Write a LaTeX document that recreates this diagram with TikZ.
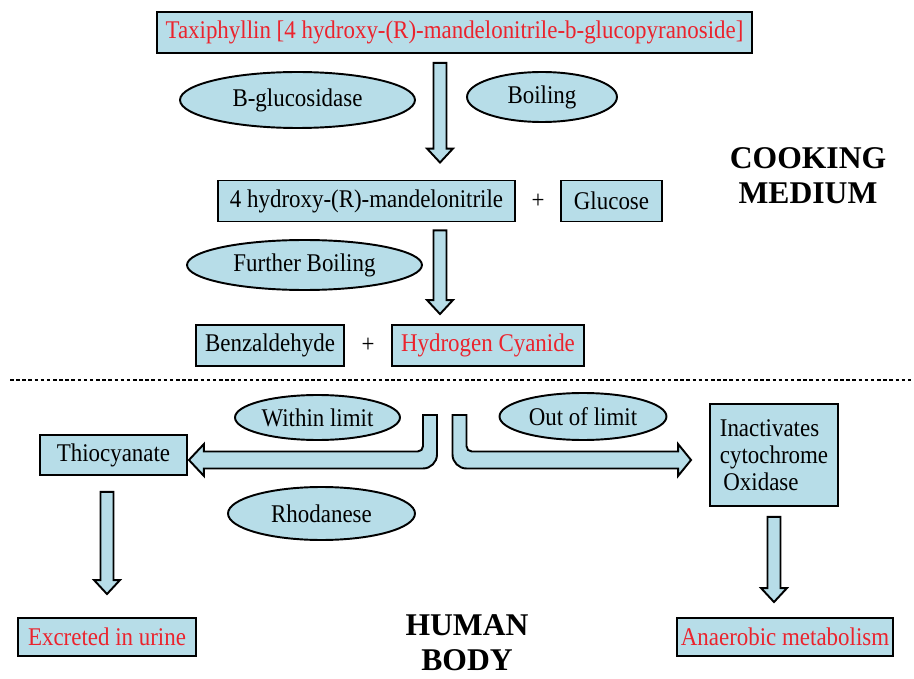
\documentclass[tikz,border=0pt]{standalone}
\usepackage{fontspec}
\setmainfont{Liberation Serif}[FakeStretch=0.9]
\newfontfamily\titlefont{Liberation Serif}
\usetikzlibrary{shapes.geometric,calc}
\definecolor{paleblue}{RGB}{183,221,232}
\definecolor{redtxt}{RGB}{235,35,45}
\tikzset{
    box/.style={draw, fill=paleblue, line width=1.1pt, inner sep=2pt, minimum height=0.82cm, font=\fontsize{14.5}{15.5}\selectfont},
    oval/.style={ellipse, draw, fill=paleblue, line width=1.1pt, inner sep=0pt, font=\fontsize{14.5}{15.5}\selectfont},
    blockarr/.style={draw, fill=paleblue, line width=1.1pt, line join=miter},
    title/.style={font=\titlefont\fontsize{18}{20}\selectfont\bfseries, align=center},
    sign/.style={font=\fontsize{14.5}{15.5}\selectfont}
}
% straight block arrow, #1 = top of shaft, #2 = tip
\newcommand{\blockdown}[2]{%
    \draw[blockarr] ($#1+(-6.5,0)$) -- ($#2+(-6.5,-14)$) -- ($#2+(-13,-14)$) -- #2
        -- ($#2+(13,-14)$) -- ($#2+(6.5,-14)$) -- ($#1+(6.5,0)$) -- cycle;
}
\begin{document}
\begin{tikzpicture}[x=0.02cm, y=-0.02cm]
    \useasboundingbox (0,0) rectangle (914,679);
    % cooking medium
    \node[box, minimum width=11.9cm, text=redtxt] (taxi) at (454.5,32.5) {Taxiphyllin [4 hydroxy-(R)-mandelonitrile-b-glucopyranoside]};
    \node[oval, minimum width=4.7cm, minimum height=1.12cm] (bgluc) at (297.5,100) {B-glucosidase};
    \node[oval, minimum width=3cm, minimum height=1cm] (boil) at (542,97) {Boiling};
    \node[box, minimum width=5.94cm] (mand) at (366.5,201) {4 hydroxy-(R)-mandelonitrile};
    \node[sign] (plus1) at (538,201) {+};
    \node[box, minimum width=2.02cm] (glucose) at (611.5,201) {Glucose};
    \node[title] (cook) at (808,176) {COOKING\\MEDIUM};
    \node[oval, minimum width=4.7cm, minimum height=1cm] (further) at (304.5,265) {Further Boiling};
    \node[box, minimum width=2.96cm] (benz) at (270,345.5) {Benzaldehyde};
    \node[sign] (plus2) at (368,345) {+};
    \node[box, minimum width=3.84cm, text=redtxt] (hcn) at (488,345.5) {Hydrogen Cyanide};

    \draw[dash pattern=on 2pt off 1.5pt, line width=0.8pt] (10,380) -- (912,380);

    % human body
    \node[oval, minimum width=3.3cm, minimum height=0.9cm] (within) at (317.5,417.5) {Within limit};
    \node[oval, minimum width=3.34cm, minimum height=0.94cm] (outlim) at (583,416.5) {Out of limit};
    \node[box, minimum width=2.94cm, minimum height=0.8cm] (thio) at (113.5,455) {Thiocyanate};
    \node[box, minimum width=2.56cm, minimum height=2.04cm, align=left] (inact) at (774,455) {Inactivates\\cytochrome\\\hspace{2pt}Oxidase};
    \node[oval, minimum width=3.74cm, minimum height=1.06cm] (rhod) at (321.5,513.5) {Rhodanese};
    \node[box, minimum width=3.56cm, minimum height=0.76cm, text=redtxt] (urine) at (107,637) {Excreted in urine};
    \node[title] (human) at (467,643) {HUMAN\\BODY};
    \node[box, minimum width=4.28cm, minimum height=0.76cm, text=redtxt] (anaer) at (785,637) {Anaerobic metabolism};

    % arrows
    \coordinate (col) at (440,0);
    \coordinate (a1top) at ($(col |- taxi.south)+(0,9)$);
    \coordinate (a1tip) at ($(col |- mand.north)+(0,-17)$);
    \coordinate (a2top) at ($(col |- mand.south)+(0,8)$);
    \coordinate (a2tip) at ($(col |- benz.north)+(0,-10)$);
    \coordinate (a3top) at ($(urine.north |- thio.south)+(0,16)$);
    \coordinate (a3tip) at ($(urine.north)+(0,-23)$);
    \coordinate (a4top) at ($(inact.south)+(0,10)$);
    \coordinate (a4tip) at ($(inact.south |- anaer.north)+(0,-15)$);
    \blockdown{(a1top)}{(a1tip)}
    \blockdown{(a2top)}{(a2tip)}
    \blockdown{(a3top)}{(a3tip)}
    \blockdown{(a4top)}{(a4tip)}

    \coordinate (s1) at (430,415);
    \coordinate (s2) at (459.5,415);
    \coordinate (t1) at ($(thio.east)+(1,5)$);
    \coordinate (t2) at ($(inact.west)+(-18,5)$);
    \draw[blockarr] ($(s1)+(-7,0)$) [rounded corners=3pt] -- ($(s1 |- t1)+(-7,-8.5)$) [sharp corners]
        -- ($(t1)+(15,-8.5)$) -- ($(t1)+(15,-16)$) -- (t1) -- ($(t1)+(15,16)$) -- ($(t1)+(15,8.5)$)
        [rounded corners=8pt] -- ($(s1 |- t1)+(7,8.5)$) [sharp corners] -- ($(s1)+(7,0)$) -- cycle;
    \draw[blockarr] ($(s2)+(7,0)$) [rounded corners=3pt] -- ($(s2 |- t2)+(7,-8.5)$) [sharp corners]
        -- ($(t2)+(-13,-8.5)$) -- ($(t2)+(-13,-16)$) -- (t2) -- ($(t2)+(-13,16)$) -- ($(t2)+(-13,8.5)$)
        [rounded corners=8pt] -- ($(s2 |- t2)+(-7,8.5)$) [sharp corners] -- ($(s2)+(-7,0)$) -- cycle;
\end{tikzpicture}
\end{document}
